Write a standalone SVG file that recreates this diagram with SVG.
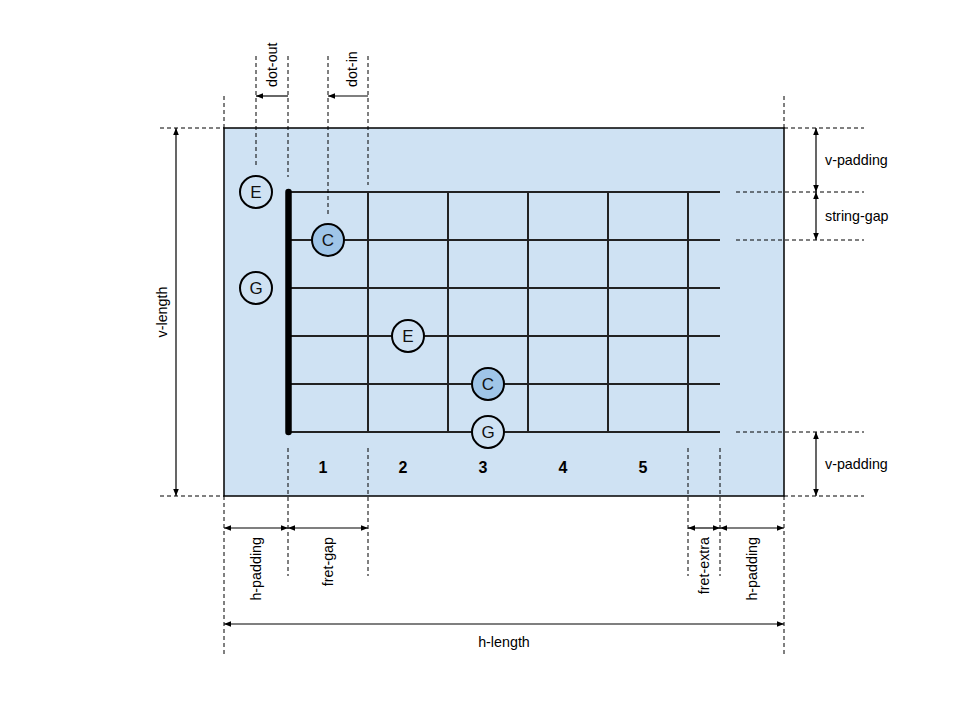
<svg xmlns="http://www.w3.org/2000/svg" width="960" height="720" viewBox="0 0 960 720">
<defs>
<style>
text{font-family:"Liberation Sans",Arial,sans-serif;fill:#000}
.lbl{font-size:14.3px}
.num{font-size:16px;font-weight:bold;text-anchor:middle}
.note{font-size:17px;text-anchor:middle;dominant-baseline:central;fill:#111}
.dash{stroke:#000;stroke-width:1;stroke-dasharray:4 3;fill:none}
.dim{stroke:#000;stroke-width:1.2;fill:none}
.str{stroke:#222;stroke-width:2;fill:none}
.dot{stroke:#000;stroke-width:2;fill:#cfe2f3}
.dot.hl{fill:#9fc5e8}
</style>
<marker id="ah" viewBox="0 0 10 10" refX="10" refY="5" markerWidth="7" markerHeight="7" orient="auto-start-reverse" markerUnits="userSpaceOnUse">
<path d="M0,1 L10,5 L0,9 Z" fill="#000"/>
</marker>
</defs>
<rect width="960" height="720" fill="#fff"/>

<g id="board">
<rect x="224" y="128" width="560" height="368" fill="#cfe2f3" stroke="#000" stroke-width="1.5"/>
</g>

<g id="strings">
<line class="str" x1="288" y1="192" x2="720" y2="192"/>
<line class="str" x1="288" y1="240" x2="720" y2="240"/>
<line class="str" x1="288" y1="288" x2="720" y2="288"/>
<line class="str" x1="288" y1="336" x2="720" y2="336"/>
<line class="str" x1="288" y1="384" x2="720" y2="384"/>
<line class="str" x1="288" y1="432" x2="720" y2="432"/>
</g>
<g id="frets">
<line class="str" x1="368" y1="192" x2="368" y2="432"/>
<line class="str" x1="448" y1="192" x2="448" y2="432"/>
<line class="str" x1="528" y1="192" x2="528" y2="432"/>
<line class="str" x1="608" y1="192" x2="608" y2="432"/>
<line class="str" x1="688" y1="192" x2="688" y2="432"/>
</g>
<g id="nut">
<line x1="288.5" y1="192" x2="288.5" y2="432" stroke="#000" stroke-width="6.5" stroke-linecap="round"/>
</g>

<g id="fret-numbers">
<text class="num" x="323" y="473">1</text>
<text class="num" x="403" y="473">2</text>
<text class="num" x="483" y="473">3</text>
<text class="num" x="563" y="473">4</text>
<text class="num" x="643" y="473">5</text>
</g>

<g id="connectors">
<line class="dash" x1="256" y1="56" x2="256" y2="166"/>
<line class="dash" x1="288" y1="56" x2="288" y2="177"/>
<line class="dash" x1="328" y1="56" x2="328" y2="215"/>
<line class="dash" x1="368" y1="56" x2="368" y2="185"/>
<line class="dim" x1="288" y1="96" x2="256" y2="96" marker-end="url(#ah)"/>
<line class="dim" x1="368" y1="96" x2="328" y2="96" marker-end="url(#ah)"/>
<line class="dash" x1="224" y1="96" x2="224" y2="128"/>
<line class="dash" x1="784" y1="96" x2="784" y2="128"/>
<line class="dash" x1="160" y1="128" x2="224" y2="128"/>
<line class="dash" x1="160" y1="496" x2="224" y2="496"/>
<line class="dim" x1="176" y1="128" x2="176" y2="496" marker-start="url(#ah)" marker-end="url(#ah)"/>
<line class="dash" x1="784" y1="128" x2="864" y2="128"/>
<line class="dash" x1="736" y1="192" x2="864" y2="192"/>
<line class="dash" x1="736" y1="240" x2="864" y2="240"/>
<line class="dash" x1="736" y1="432" x2="864" y2="432"/>
<line class="dash" x1="784" y1="496" x2="864" y2="496"/>
<line class="dim" x1="816" y1="128" x2="816" y2="192" marker-start="url(#ah)" marker-end="url(#ah)"/>
<line class="dim" x1="816" y1="192" x2="816" y2="240" marker-start="url(#ah)" marker-end="url(#ah)"/>
<line class="dim" x1="816" y1="432" x2="816" y2="496" marker-start="url(#ah)" marker-end="url(#ah)"/>
<line class="dash" x1="224" y1="496" x2="224" y2="656"/>
<line class="dash" x1="784" y1="496" x2="784" y2="656"/>
<line class="dash" x1="288" y1="448" x2="288" y2="576"/>
<line class="dash" x1="368" y1="448" x2="368" y2="576"/>
<line class="dash" x1="688" y1="448" x2="688" y2="576"/>
<line class="dash" x1="720" y1="448" x2="720" y2="576"/>
<line class="dim" x1="224" y1="528" x2="288" y2="528" marker-start="url(#ah)" marker-end="url(#ah)"/>
<line class="dim" x1="288" y1="528" x2="368" y2="528" marker-start="url(#ah)" marker-end="url(#ah)"/>
<line class="dim" x1="688" y1="528" x2="720" y2="528" marker-start="url(#ah)" marker-end="url(#ah)"/>
<line class="dim" x1="720" y1="528" x2="784" y2="528" marker-start="url(#ah)" marker-end="url(#ah)"/>
<line class="dim" x1="224" y1="624" x2="784" y2="624" marker-start="url(#ah)" marker-end="url(#ah)"/>
</g>

<g id="dim-labels">
<text class="lbl" transform="translate(277,87) rotate(-90)">dot-out</text>
<text class="lbl" transform="translate(357,87) rotate(-90)">dot-in</text>
<text class="lbl" text-anchor="middle" transform="translate(167,312) rotate(-90)">v-length</text>
<text class="lbl" x="825" y="165">v-padding</text>
<text class="lbl" x="825" y="221">string-gap</text>
<text class="lbl" x="825" y="469">v-padding</text>
<text class="lbl" text-anchor="end" transform="translate(261,537) rotate(-90)">h-padding</text>
<text class="lbl" text-anchor="end" transform="translate(333,537) rotate(-90)">fret-gap</text>
<text class="lbl" text-anchor="end" transform="translate(709,537) rotate(-90)">fret-extra</text>
<text class="lbl" text-anchor="end" transform="translate(757,537) rotate(-90)">h-padding</text>
<text class="lbl" text-anchor="middle" x="504" y="647">h-length</text>
</g>

<g id="note-E1"><circle class="dot" cx="256" cy="192" r="16"/><text class="note" x="256" y="192">E</text></g>
<g id="note-C1"><circle class="dot hl" cx="328" cy="240" r="16"/><text class="note" x="328" y="240">C</text></g>
<g id="note-G1"><circle class="dot" cx="256" cy="288" r="16"/><text class="note" x="256" y="288">G</text></g>
<g id="note-E2"><circle class="dot" cx="408" cy="336" r="16"/><text class="note" x="408" y="336">E</text></g>
<g id="note-C2"><circle class="dot hl" cx="488" cy="384" r="16"/><text class="note" x="488" y="384">C</text></g>
<g id="note-G2"><circle class="dot" cx="488" cy="432" r="16"/><text class="note" x="488" y="432">G</text></g>
</svg>
